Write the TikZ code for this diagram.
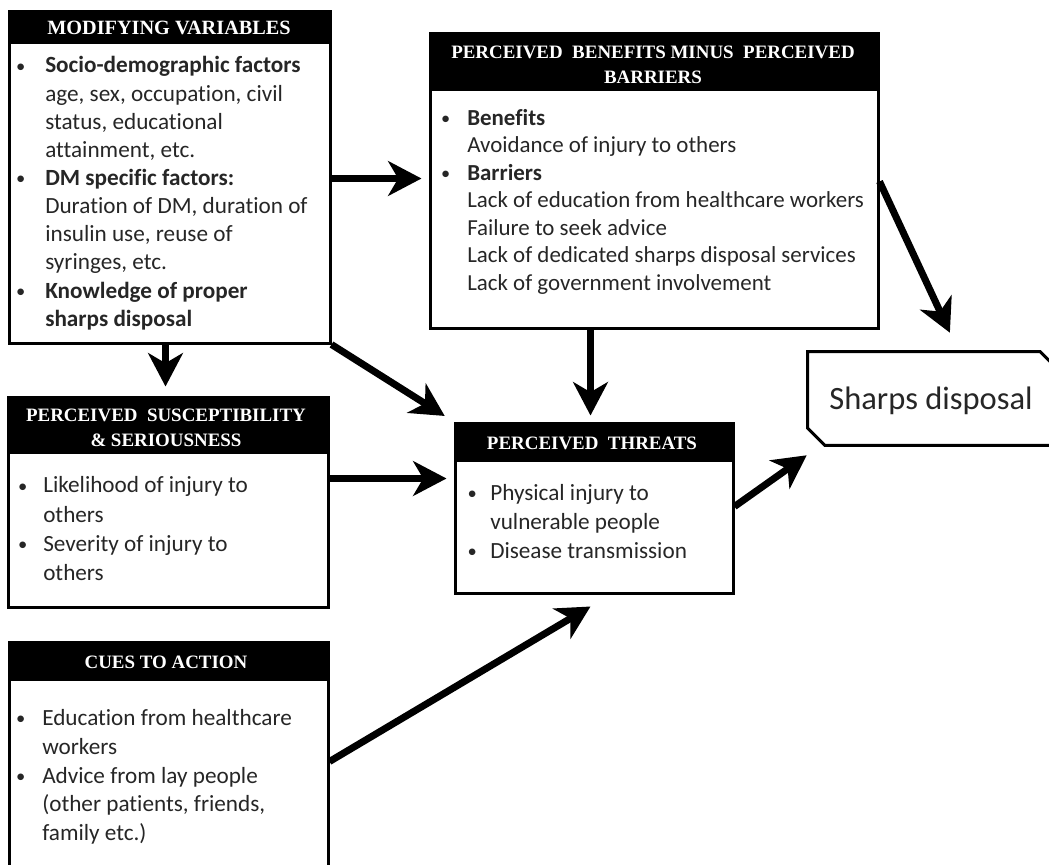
\documentclass[tikz,border=0pt]{standalone}
\usepackage{fontspec}
\setmainfont[Ligatures=NoCommon]{Carlito}
\newfontfamily\headfont{Liberation Serif}
\usetikzlibrary{arrows.meta,fit,calc}
\newcommand\bul[1][12pt]{\llap{\raisebox{0.5pt}{\scalebox{0.8}{\textbullet}}\hspace{#1}}}
\begin{document}
\begin{tikzpicture}[x=0.75pt,y=-0.75pt,
  box/.style={draw, line width=2.25pt, inner sep=0pt},
  hdr/.style={text=white, font=\headfont\bfseries\fontsize{14.2pt}{18.75pt}\selectfont, align=center, inner sep=0pt},
  body/.style={text=black!85, anchor=north west, align=left, inner sep=0pt},
  arr/.style={line width=5.25pt, -{Stealth[length=25pt,width=26pt,inset=7.5pt]}},
]
\useasboundingbox (0,0) rectangle (1049,864);

% boxes
\node[box, fit={(9,11) (330,343)}] (mv) {};
\node[box, fit={(430,33) (878,328)}] (pb) {};
\node[box, fit={(8,397) (328,607)}] (ps) {};
\node[box, fit={(9,642) (328,890)}] (cu) {};
\node[box, fit={(455,423) (733,593)}] (pt) {};
\node[inner sep=0pt, fit={(808,352) (1062,445)}] (sdb) {};

% header bands
\fill (mv.north west) rectangle ($(mv.north east)+(0,34)$);
\fill (pb.north west) rectangle ($(pb.north east)+(0,59)$);
\fill (ps.north west) rectangle ($(ps.north east)+(0,58)$);
\fill (cu.north west) rectangle ($(cu.north east)+(0,40)$);
\fill (pt.north west) rectangle ($(pt.north east)+(0,40)$);

% headers
\node[hdr, font=\headfont\bfseries\fontsize{15.2pt}{18.75pt}\selectfont] (mvh) at (169,28) {MODIFYING VARIABLES};
\node[hdr] (pbh) at (653,64.5) {PERCEIVED\ \ BENEFITS MINUS\ \ PERCEIVED\\BARRIERS};
\node[hdr] (psh) at (166,427.5) {PERCEIVED\ \ SUSCEPTIBILITY\\\&~SERIOUSNESS};
\node[hdr] (cuh) at (166,662) {CUES TO ACTION};
\node[hdr] (pth) at (592,443) {PERCEIVED\ \ THREATS};

% bodies
\node[body, font=\fontsize{17.4pt}{21.1pt}\selectfont] (mvt) at (45,53) {%
\strut\bul[15pt]\textbf{Socio-demographic factors}\\
age, sex, occupation, civil\\
status, educational\\
attainment, etc.\\
\bul[15pt]\textbf{DM specific factors:}\\
Duration of DM, duration of\\
insulin use, reuse of\\
syringes, etc.\\
\bul[15pt]\textbf{Knowledge of proper}\\
\textbf{sharps disposal}};

\node[body, font=\fontsize{17.2pt}{20.6pt}\selectfont] (pbt) at (467,106) {%
\strut\bul[12.75pt]\textbf{Benefits}\\
Avoidance of injury to others\\
\bul[12.75pt]\textbf{Barriers}\\
Lack of education from healthcare workers\\
Failure to seek advice\\
Lack of dedicated sharps disposal services\\
Lack of government involvement};

\node[body, font=\fontsize{17.4pt}{22pt}\selectfont] (pst) at (43,472) {%
\strut\bul Likelihood of injury to\\
others\\
\bul Severity of injury to\\
others};

\node[body, font=\fontsize{17.4pt}{21.6pt}\selectfont] (cut) at (42,705) {%
\strut\bul[12.75pt]Education from healthcare\\
workers\\
\bul[12.75pt]Advice from lay people\\
(other patients, friends,\\
family etc.)};

\node[body, font=\fontsize{17.4pt}{21.75pt}\selectfont] (ptt) at (490,480) {%
\strut\bul[10pt]Physical injury to\\
vulnerable people\\
\bul[10pt]Disease transmission};

% sharps disposal
\draw[line width=2.25pt, line join=miter] (sdb.north west) -- ($(sdb.north east)+(-22,0)$) -- ($(sdb.north east)+(0,22)$) -- (sdb.south east) -- ($(sdb.south west)+(17,0)$) -- ($(sdb.south west)+(0,-17)$) -- cycle;
\node[text=black!85, font=\fontsize{24.4pt}{29pt}\selectfont, inner sep=0pt] (sd) at (931,401) {Sharps disposal};

% arrows
\draw[arr, shorten >=5.25pt] ($(mv.north east)+(0,169)$) -- ($(pb.north west)+(0,147)$);
\draw[arr, shorten >=6.75pt] ($(mv.south west)+(158,0)$) -- ($(ps.north west)+(159,0)$);
\draw[arr, shorten >=7.8pt] (mv.south east) -- (pt.north west);
\draw[arr, shorten >=4.5pt] ($(pb.south west)+(162,0)$) -- ($(pt.north west)+(137,0)$);
\draw[arr, shorten >=15.75pt] ($(pb.north east)+(0,150)$) -- ($(sdb.north west)+(151,0)$);
\draw[arr, shorten >=5.25pt] ($(ps.north east)+(0,83)$) -- ($(pt.north west)+(0,57)$);
\draw[arr] ($(pt.north east)+(0,85)$) -- ($(sdb.south west)+(-1,10)$);
\draw[arr] ($(cu.north east)+(0,121)$) -- ($(pt.south west)+(137,12)$);
\end{tikzpicture}
\end{document}
